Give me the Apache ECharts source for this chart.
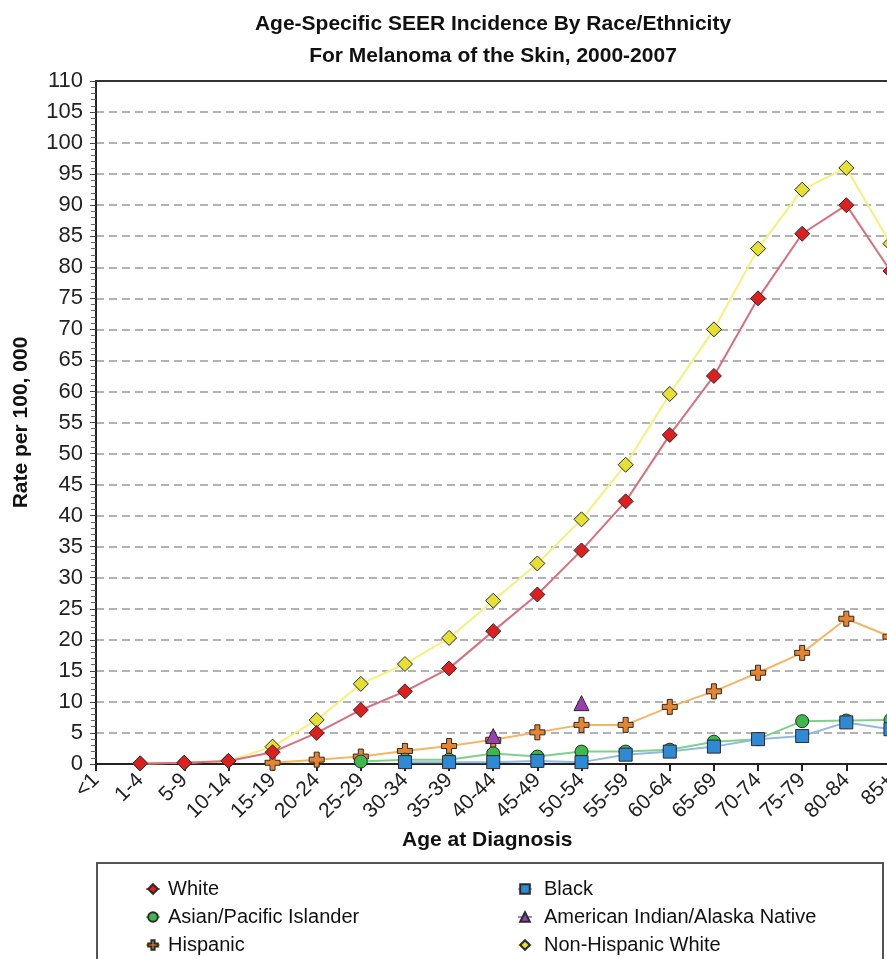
<!DOCTYPE html>
<html>
<head>
<meta charset="utf-8">
<script src="https://cdn.jsdelivr.net/npm/echarts@6/dist/echarts.min.js"></script>
<style>
  html, body { margin: 0; padding: 0; background: #ffffff; width: 887px; height: 959px; overflow: hidden; }
  #chart { width: 900px; height: 1000px; }
</style>
</head>
<body>
<div id="chart"></div>
<script>
// Age groups at diagnosis
const ageGroups = ['<1', '1-4', '5-9', '10-14', '15-19', '20-24', '25-29', '30-34', '35-39',
  '40-44', '45-49', '50-54', '55-59', '60-64', '65-69', '70-74', '75-79', '80-84', '85+'];

// Rates per 100,000 by race/ethnicity (null = not reported)
const white = [null, 0.1, 0.2, 0.5, 1.9, 5.0, 8.7, 11.7, 15.4, 21.4, 27.3, 34.4, 42.3, 53.0, 62.5, 75.0, 85.4, 90.0, 79.4];
const black = [null, null, null, null, null, null, null, 0.3, 0.3, 0.3, 0.5, 0.3, 1.5, 2.0, 2.8, 4.0, 4.5, 6.7, 5.6];
const asianPI = [null, null, null, null, null, null, 0.4, 0.7, 0.7, 1.7, 1.2, 2.0, 2.0, 2.3, 3.6, 4.0, 6.9, 7.0, 7.1];
const amIndian = [null, null, null, null, null, null, null, null, null, 4.5, null, 9.8, null, null, null, null, null, null, null];
const hispanic = [null, null, null, null, 0.2, 0.7, 1.2, 2.1, 2.9, 3.9, 5.1, 6.3, 6.3, 9.2, 11.7, 14.7, 17.9, 23.4, 20.5];
const nonHispWhite = [null, 0.1, 0.2, 0.5, 2.8, 7.1, 12.9, 16.1, 20.3, 26.3, 32.3, 39.4, 48.2, 59.6, 70.0, 83.0, 92.5, 96.0, 83.8];

const FONT = '"Liberation Sans", Arial, sans-serif';
const PLUS = 'path://M4,0H8V4H12V8H8V12H4V8H0V4H4Z';

function lineSeries(name, data, lineColor, markColor, symbol, size, z) {
  return {
    name: name,
    type: 'line',
    data: data,
    z: z,
    symbol: symbol,
    symbolSize: size,
    showAllSymbol: true,
    connectNulls: false,
    lineStyle: { color: lineColor, width: 2 },
    itemStyle: { color: markColor, borderColor: '#2a2a2a', borderWidth: 1 },
    emphasis: { disabled: true },
    animation: false
  };
}

function legendText(padLeft) {
  return { fontFamily: FONT, fontSize: 20, color: '#111', lineHeight: 20, padding: [0, 0, 0, padLeft] };
}

const chart = echarts.init(document.getElementById('chart'), null, { renderer: 'canvas' });

chart.setOption({
  backgroundColor: '#ffffff',
  animation: false,
  title: {
    text: 'Age-Specific SEER Incidence By Race/Ethnicity\nFor Melanoma of the Skin, 2000-2007',
    left: 488,
    textAlign: 'center',
    top: 3,
    textStyle: { fontFamily: FONT, fontSize: 21, fontWeight: 'bold', color: '#111', lineHeight: 32 }
  },
  grid: { left: 96, top: 81, width: 796, height: 683, containLabel: false },
  legend: [
    {
      data: ['White', 'Asian/Pacific Islander', 'Hispanic'],
      orient: 'vertical',
      left: 140, top: 874, height: 100,
      itemWidth: 14, itemHeight: 12, itemGap: 8,
      textStyle: legendText(3),
      selectedMode: false
    },
    {
      data: ['Black', 'American Indian/Alaska Native', 'Non-Hispanic White'],
      orient: 'vertical',
      left: 512, top: 874, height: 100,
      itemWidth: 14, itemHeight: 12, itemGap: 8,
      textStyle: legendText(7),
      selectedMode: false
    }
  ],
  graphic: [
    {
      type: 'rect',
      shape: { x: 97, y: 863, width: 786, height: 120 },
      style: { fill: 'none', stroke: '#555', lineWidth: 2 },
      silent: true
    }
  ],
  xAxis: [
    {
      type: 'category',
      data: ageGroups,
      boundaryGap: false,
      name: 'Age at Diagnosis',
      nameLocation: 'middle',
      nameGap: 66,
      nameTextStyle: { fontFamily: FONT, fontSize: 21, fontWeight: 'bold', color: '#111', padding: [0, 12, 0, 0] },
      axisLine: { show: true, onZero: false, lineStyle: { color: '#222', width: 2 } },
      axisTick: { show: true, alignWithLabel: true, length: 7, lineStyle: { color: '#222', width: 2 } },
      axisLabel: { rotate: 45, interval: 0, margin: 13, fontFamily: FONT, fontSize: 21, color: '#222' },
      splitLine: { show: false }
    },
    {
      type: 'category',
      data: ageGroups,
      boundaryGap: false,
      position: 'top',
      axisLine: { show: true, onZero: false, lineStyle: { color: '#333', width: 2 } },
      axisTick: { show: false },
      axisLabel: { show: false },
      splitLine: { show: false }
    }
  ],
  yAxis: {
    type: 'value',
    min: 0,
    max: 110,
    interval: 5,
    name: 'Rate per 100, 000',
    nameLocation: 'middle',
    nameGap: 64,
    nameRotate: 90,
    nameTextStyle: { fontFamily: FONT, fontSize: 21, fontWeight: 'bold', color: '#111' },
    axisLine: { show: true, lineStyle: { color: '#222', width: 2 } },
    axisTick: { show: true, length: 6, lineStyle: { color: '#444', width: 1 } },
    minorTick: { show: true, splitNumber: 5, length: 5, lineStyle: { color: '#666', width: 1 } },
    axisLabel: { margin: 13, fontFamily: FONT, fontSize: 22, color: '#222' },
    splitLine: { show: true, lineStyle: { color: '#9a9a9a', width: 1.5, type: [8, 5] } }
  },
  series: [
    lineSeries('Non-Hispanic White', nonHispWhite, '#f6f07c', '#e6e032', 'diamond', 15, 2),
    lineSeries('Hispanic', hispanic, '#f2b765', '#e8832e', PLUS, 15, 3),
    lineSeries('Asian/Pacific Islander', asianPI, '#80cf8c', '#3db84a', 'circle', 13, 4),
    lineSeries('Black', black, '#93b9de', '#2f8ad6', 'rect', 13, 5),
    lineSeries('American Indian/Alaska Native', amIndian, '#b27fc8', '#9a3fb2', 'triangle', 15, 6),
    lineSeries('White', white, '#d96f7e', '#dc1f1f', 'diamond', 15, 7)
  ]
});
</script>
</body>
</html>
